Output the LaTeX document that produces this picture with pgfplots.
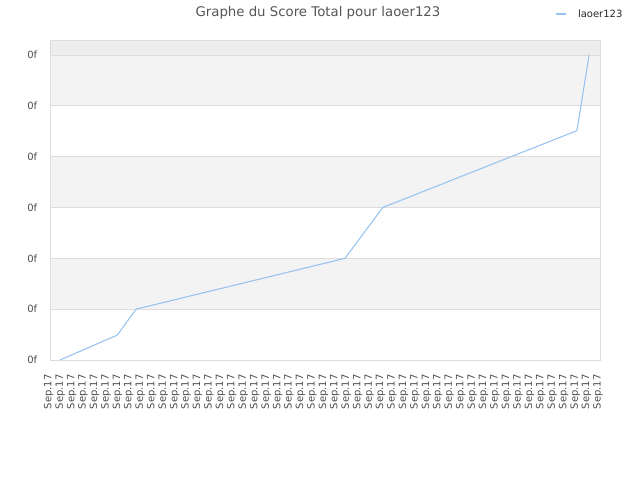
\documentclass[border=0pt]{standalone}
\usepackage{pgfplots}
\pgfplotsset{compat=1.18}
\usepackage{fontspec}
\setmainfont{DejaVu Sans}

\definecolor{linecol}{HTML}{99C4F0}
\definecolor{gridcol}{HTML}{DDDDDD}
\definecolor{bandcol}{HTML}{F3F3F3}
\definecolor{topband}{HTML}{EDEDED}
\definecolor{titlecol}{HTML}{555555}
\definecolor{tickcol}{HTML}{4D4D4D}

\begin{document}
\begin{tikzpicture}
\path (0,0) rectangle (640bp,480bp);
\node[font=\fontsize{13.3bp}{15bp}\selectfont, text=titlecol] at (318bp,467bp) {Graphe du Score Total pour laoer123};
\begin{axis}[
  set layers,
  at={(50.7bp,120bp)}, anchor=south west,
  scale only axis,
  width=549.3bp, height=319.3bp,
  xmin=0, xmax=48,
  ymin=0, ymax=6.28,
  xtick={0,...,48},
  xticklabel={Sep.17},
  ytick={0,...,6},
  yticklabel={0f},
  major tick length=0pt,
  ymajorgrids,
  grid style={gridcol, line width=0.8bp},
  axis line style={gridcol, line width=0.8bp},
  xticklabel style={rotate=90, anchor=east, font=\fontsize{10bp}{12bp}\selectfont, text=tickcol, xshift=-11bp, yshift=2bp},
  yticklabel style={font=\fontsize{10bp}{12bp}\selectfont, text=tickcol, xshift=-10bp},
  legend style={draw=none, fill=none, at={(0.912,1.0836)}, anchor=west,
    font=\fontsize{10bp}{12bp}\selectfont, text=black!85,
    /tikz/every odd column/.append style={column sep=9bp}},
  legend image code/.code={\draw[#1, line width=1.5bp] (0bp,0bp) -- (10.7bp,0bp);},
]
\addplot[fill=topband, draw=none, on layer=axis background, forget plot] coordinates {(0,6) (48,6) (48,6.28) (0,6.28)} -- cycle;
\addplot[fill=bandcol, draw=none, on layer=axis background, forget plot] coordinates {(0,5) (48,5) (48,6) (0,6)} -- cycle;
\addplot[fill=bandcol, draw=none, on layer=axis background, forget plot] coordinates {(0,3) (48,3) (48,4) (0,4)} -- cycle;
\addplot[fill=bandcol, draw=none, on layer=axis background, forget plot] coordinates {(0,1) (48,1) (48,2) (0,2)} -- cycle;
\addplot[linecol, line width=1.1bp] coordinates {
  (0.81,0) (5.82,0.49) (7.46,1.0) (25.72,2.0) (29.02,3.0) (45.98,4.51) (47.05,6.0)
};
\addlegendentry{laoer123}
\end{axis}
\end{tikzpicture}
\end{document}
